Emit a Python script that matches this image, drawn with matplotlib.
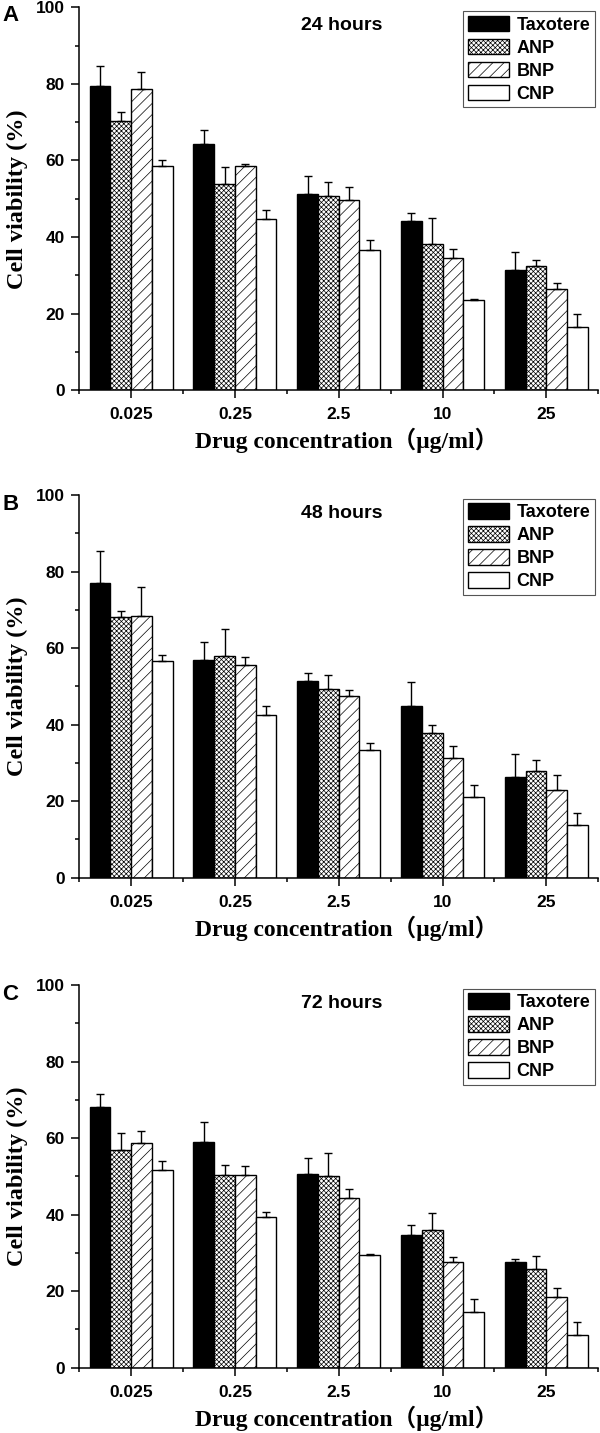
import numpy as np
import matplotlib
matplotlib.use('Agg')
import matplotlib.pyplot as plt
from matplotlib.ticker import MultipleLocator, FixedLocator

# ---- data -----------------------------------------------------------------
concentrations = ['0.025', '0.25', '2.5', '10', '25']
series_names = ['Taxotere', 'ANP', 'BNP', 'CNP']
panel_titles = ['24 hours', '48 hours', '72 hours']
panel_letters = ['A', 'B', 'C']

# 24 hours
tax_24 = [79.5, 64.2, 51.2, 44.3, 31.4]
anp_24 = [70.4, 53.8, 50.6, 38.1, 32.5]
bnp_24 = [78.6, 58.6, 49.7, 34.6, 26.4]
cnp_24 = [58.6, 44.6, 36.6, 23.5, 16.6]
tax_24_err = [5.2, 3.8, 4.8, 1.9, 4.7]
anp_24_err = [2.2, 4.6, 3.8, 6.8, 1.6]
bnp_24_err = [4.5, 0.5, 3.5, 2.3, 1.6]
cnp_24_err = [1.5, 2.5, 2.6, 0.3, 3.4]

# 48 hours
tax_48 = [77.0, 56.9, 51.4, 44.9, 26.4]
anp_48 = [68.1, 57.9, 49.2, 37.8, 27.9]
bnp_48 = [68.5, 55.5, 47.6, 31.2, 22.9]
cnp_48 = [56.6, 42.6, 33.5, 21.2, 13.9]
tax_48_err = [8.3, 4.8, 2.1, 6.3, 5.9]
anp_48_err = [1.5, 7.2, 3.7, 2.0, 2.8]
bnp_48_err = [7.5, 2.3, 1.5, 3.1, 3.9]
cnp_48_err = [1.5, 2.3, 1.6, 3.1, 2.9]

# 72 hours
tax_72 = [68.1, 59.1, 50.7, 34.7, 27.6]
anp_72 = [56.9, 50.3, 50.0, 36.1, 25.7]
bnp_72 = [58.6, 50.4, 44.4, 27.6, 18.4]
cnp_72 = [51.6, 39.5, 29.4, 14.6, 8.6]
tax_72_err = [3.4, 5.2, 4.2, 2.6, 0.9]
anp_72_err = [4.4, 2.6, 6.2, 4.3, 3.6]
bnp_72_err = [3.3, 2.3, 2.3, 1.4, 2.5]
cnp_72_err = [2.4, 1.2, 0.4, 3.3, 3.3]

panels = [
    ([tax_24, anp_24, bnp_24, cnp_24], [tax_24_err, anp_24_err, bnp_24_err, cnp_24_err]),
    ([tax_48, anp_48, bnp_48, cnp_48], [tax_48_err, anp_48_err, bnp_48_err, cnp_48_err]),
    ([tax_72, anp_72, bnp_72, cnp_72], [tax_72_err, anp_72_err, bnp_72_err, cnp_72_err]),
]

# ---- styles ----------------------------------------------------------------
fills = ['black', 'white', 'white', 'white']
hatches = [None, 'xxxxxxx', '///', None]

plt.rcParams['hatch.linewidth'] = 0.5
plt.rcParams['hatch.color'] = 'black'

sans = 'Liberation Sans'
serif = ['Liberation Serif', 'Noto Sans CJK SC']

fig = plt.figure(figsize=(6.0, 14.33), dpi=100)

# axes boxes in figure fractions: [left, bottom, width, height]
ax_bottoms = [0.7278, 0.3875, 0.0456]
ax_left, ax_width, ax_height = 0.132, 0.865, 0.2670
letter_y = [0.9853, 0.6443, 0.3023]

x = np.arange(len(concentrations))
w = 0.2
offsets = [-1.5 * w, -0.5 * w, 0.5 * w, 1.5 * w]

for p, (vals, errs) in enumerate(panels):
    ax = fig.add_axes([ax_left, ax_bottoms[p], ax_width, ax_height])
    for i in range(4):
        ax.bar(x + offsets[i], vals[i], w, color=fills[i], hatch=hatches[i],
               edgecolor='black', linewidth=1.0, label=series_names[i], zorder=2)
        # only the upper half of the error bar is shown
        ax.errorbar(x + offsets[i], vals[i], yerr=[np.zeros(len(x)), errs[i]],
                    fmt='none', ecolor='black', elinewidth=1.0, capsize=3.2,
                    capthick=1.0, zorder=3)

    ax.set_xlim(-0.5, 4.5)
    ax.set_ylim(0, 100)
    ax.spines['top'].set_visible(False)
    ax.spines['right'].set_visible(False)
    ax.spines['left'].set_linewidth(1.1)
    ax.spines['bottom'].set_linewidth(1.1)

    ax.set_xticks(x)
    ax.set_xticklabels(concentrations)
    ax.xaxis.set_minor_locator(FixedLocator(np.arange(-0.5, 4.6, 1.0)))
    ax.yaxis.set_major_locator(MultipleLocator(20))
    ax.yaxis.set_minor_locator(MultipleLocator(10))
    ax.tick_params(which='major', direction='out', length=5.5, width=1.1)
    ax.tick_params(which='minor', direction='out', length=3, width=1.1)
    ax.tick_params(axis='x', which='major', pad=7)
    ax.tick_params(axis='y', which='major', pad=5)
    for lab in ax.get_xticklabels() + ax.get_yticklabels():
        lab.set_fontfamily(sans)
        lab.set_fontweight('bold')
        lab.set_fontsize(12.5)

    ax.set_ylabel('Cell viability (%)', family=serif, fontweight='bold', fontsize=17.5)
    ax.yaxis.set_label_coords(-0.098, 0.5)
    ax.set_xlabel('Drug concentration（μg/ml）', family=serif, fontweight='bold',
                  fontsize=17, labelpad=4)
    ax.xaxis.label.set_x(0.515)

    ax.text(0.505, 0.94, panel_titles[p], transform=ax.transAxes, ha='center',
            va='baseline', family=sans, fontweight='bold', fontsize=14)

    leg = ax.legend(loc='upper right', bbox_to_anchor=(1.0, 1.0), borderaxespad=0.2,
                    prop={'family': sans, 'weight': 'bold', 'size': 13},
                    handlelength=2.3, handleheight=0.95, handletextpad=0.4,
                    labelspacing=0.28, borderpad=0.25, fancybox=False, framealpha=1)
    leg.get_frame().set_edgecolor('#555555')
    leg.get_frame().set_linewidth(0.8)

    fig.text(0.004, letter_y[p], panel_letters[p], ha='left', va='baseline',
             family=sans, fontweight='bold', fontsize=16)

fig.savefig('out.png', dpi=100)
